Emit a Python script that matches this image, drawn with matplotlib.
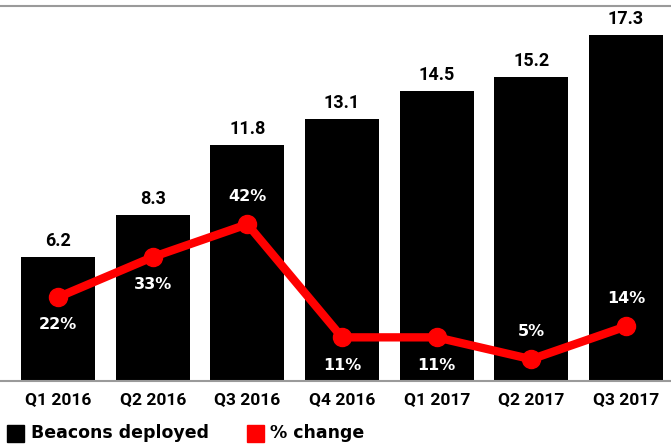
import matplotlib.pyplot as plt
import numpy as np
from matplotlib.patches import Rectangle

# Data
quarters = ['Q1 2016', 'Q2 2016', 'Q3 2016', 'Q4 2016', 'Q1 2017', 'Q2 2017', 'Q3 2017']
beacons = [6.2, 8.3, 11.8, 13.1, 14.5, 15.2, 17.3]
pct_change = [22, 33, 42, 11, 11, 5, 14]
pct_label_above = [False, False, True, False, False, True, True]

plt.rcParams['font.family'] = ['Roboto', 'DejaVu Sans']
plt.rcParams['font.weight'] = 'bold'
wide = ['DejaVu Sans']

W, H = 671, 446
fig = plt.figure(figsize=(W / 100, H / 100), dpi=100)
ax = fig.add_axes([0, (H - 381) / H, 1, 375 / H])

x = np.arange(len(quarters))
bars = ax.bar(x, beacons, width=0.78, color='black', zorder=2)
ax.set_xlim(-0.613, 6.475)
ax.set_ylim(0, 18.75)

for b, v in zip(bars, beacons):
    ax.annotate(f'{v}', xy=(b.get_x() + b.get_width() / 2, v), xytext=(0, 5),
                textcoords='offset points', ha='center', va='bottom',
                fontsize=13, fontweight='bold', color='black')

ax.set_yticks([])
ax.set_xticks(x)
ax.set_xticklabels(quarters, fontsize=12.5, fontweight='bold')
ax.tick_params(axis='x', length=0, pad=8)
for s in ['top', 'right', 'left']:
    ax.spines[s].set_visible(False)
ax.spines['bottom'].set_color('#9a9a9a')
ax.spines['bottom'].set_linewidth(1.5)

ax2 = ax.twinx()
ax2.set_ylim(-0.96, 101.8)
ax2.plot(x, pct_change, color='#ff0000', linewidth=6, marker='o', markersize=13,
         solid_capstyle='round', zorder=3)
ax2.set_yticks([])
for s in ax2.spines.values():
    s.set_visible(False)
for xi, v, above in zip(x, pct_change, pct_label_above):
    ax2.annotate(f'{v}%', xy=(xi, v), xytext=(0, 20 if above else -20),
                 textcoords='offset points', ha='center', va='center',
                 fontsize=11.5, fontweight='bold', color='white', family=wide)

# top rule
fig.add_artist(plt.Line2D([0, 1], [1 - 6 / H, 1 - 6 / H], color='#9a9a9a', linewidth=1.5,
                          transform=fig.transFigure))

# legend
ly = 1 - 433.5 / H
fig.add_artist(Rectangle((7 / W, ly - 8.5 / H), 17 / W, 17 / H, color='black', transform=fig.transFigure))
fig.text(31 / W, ly, 'Beacons deployed', fontsize=12.5, fontweight='bold', va='center', ha='left', family=wide)
fig.add_artist(Rectangle((247 / W, ly - 8.5 / H), 17 / W, 17 / H, color='#ff0000', transform=fig.transFigure))
fig.text(270 / W, ly, '% change', fontsize=12.5, fontweight='bold', va='center', ha='left', family=wide)

fig.savefig('out.png', dpi=100, facecolor='white')
